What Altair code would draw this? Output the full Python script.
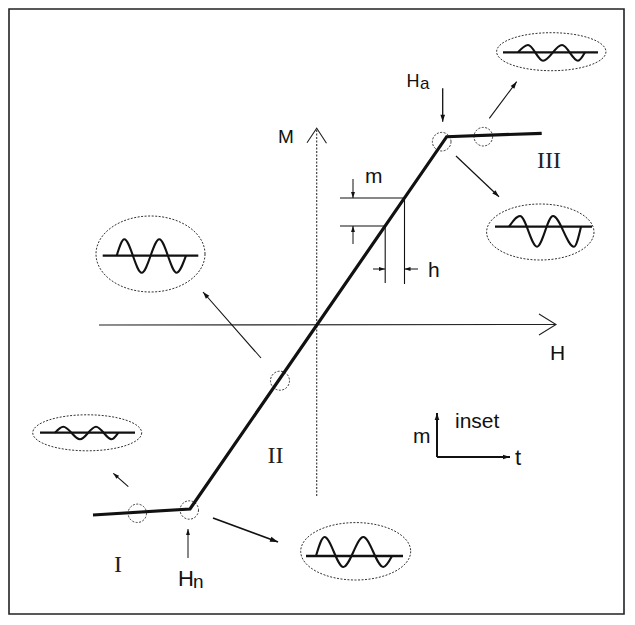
import math
import altair as alt
import pandas as pd

# ---------------- values (pixel coordinates) ----------------
# outer frame
frame_left, frame_right, frame_top, frame_bottom = 9, 624, 9, 614

# magnetisation curve M(H): regions I, II, III
curve_x = [93, 190, 446.7, 541.7]
curve_y = [515, 509, 136.7, 133.3]

# coordinate axes
h_axis_x = [99, 556]
h_axis_y = [325, 324.5]
m_axis_x = [316.7, 316.7]
m_axis_y = [496, 128.3]
h_head_x = [539, 556, 539]
h_head_y = [314, 324.5, 335]
m_head_x = [307, 316.7, 326.5]
m_head_y = [142.7, 128.3, 143.3]

# construction lines for the small step m / h
bracket_x1 = [340, 340, 385.2, 404.5]
bracket_y1 = [226, 198, 226, 198]
bracket_x2 = [385.2, 404.5, 385.2, 404.5]
bracket_y2 = [226, 198, 283, 284]

# small dashed circles on the curve
circ_x = [137.3, 189.3, 280, 441.7, 483.3]
circ_y = [513.3, 510, 380.7, 141.7, 136.7]
circ_r = [9.2, 9.2, 9.5, 9.3, 9.3]

# dashed ellipses holding the insets
ell_x = [551.3, 540.3, 150.5, 87.2, 355.7]
ell_y = [51.7, 232, 254, 432.8, 551.3]
ell_rx = [54.7, 53.7, 54.5, 54.5, 55]
ell_ry = [19, 28, 38, 18, 28.7]

# inset base lines
base_x1 = [503, 495, 102.7, 40, 306]
base_x2 = [598, 592, 198.3, 135, 403]
base_y = [52.3, 226.7, 255.7, 432.7, 556]

# inset oscillations (start, peak, trough, peak, trough, end)
wave_a_x = [518, 528, 543, 562, 578, 585]
wave_a_y = [52.3, 45, 60.7, 45, 60.7, 52.3]
wave_b_x = [509, 520, 537, 553, 574, 581]
wave_b_y = [226.7, 216, 246.7, 216, 246.7, 226.7]
wave_c_x = [116.7, 124.3, 141.7, 159.3, 176.7, 186]
wave_c_y = [255.7, 239.3, 272.7, 239.3, 272.7, 255.7]
wave_d_x = [55, 63.3, 80, 96, 111.7, 118.3]
wave_d_y = [432.7, 426.7, 439.3, 426.7, 439.3, 432.7]
wave_e_x = [316, 324.5, 343.3, 363.3, 383.3, 392]
wave_e_y = [556, 537, 567, 537, 567, 556]

# arrows: tail -> head
arr_x1 = [261, 128.3, 213, 489.3, 456, 442.7, 188, 353, 353, 373, 418, 437, 437]
arr_y1 = [358, 486.7, 518, 118.3, 156, 88.3, 558, 179, 244, 269, 269, 457, 457]
arr_x2 = [203, 113.3, 278, 516.7, 499, 442.7, 188, 353, 353, 385, 404.5, 437, 510]
arr_y2 = [292, 473.3, 542, 81.7, 196.7, 121.7, 529, 198, 226, 269, 269, 413, 457]
arr_w = [1.1, 1.1, 1.8, 1.1, 1.2, 1.3, 1.0, 1.0, 1.0, 1.0, 1.0, 2.0, 2.0]
arr_head = [7, 6, 8, 7, 7, 7, 6, 6, 6, 6, 6, 7, 7]

# labels
sans_c_text = ["M", "H"]
sans_c_x = [286, 557.5]
sans_c_y = [143.3, 360]
sans_c_size = [19, 21]

sans_l_text = ["H", "a", "H", "n", "m", "h", "inset", "m", "t"]
sans_l_x = [406.5, 420, 178, 193, 365, 428, 455, 413, 515]
sans_l_y = [87.3, 88.5, 585.5, 587.5, 183, 277, 428, 443, 465]
sans_l_size = [18, 17, 22, 19, 21, 21, 21, 21, 22]

roman_text = ["I", "II", "III"]
roman_x = [118, 275.5, 549]
roman_y = [572, 463, 168]

# ---------------- chart ----------------
W, H = 617, 607
X0, Y0 = 8, 8
xs = alt.Scale(domain=[X0, X0 + W], nice=False, zero=False)
ys = alt.Scale(domain=[Y0, Y0 + H], nice=False, zero=False, reverse=True)


def X(f):
    return alt.X(f, type="quantitative", scale=xs, axis=None)


def Y(f):
    return alt.Y(f, type="quantitative", scale=ys, axis=None)


INK = "#111111"

frame_df = pd.DataFrame({"x": [frame_left], "x2": [frame_right], "y": [frame_top], "y2": [frame_bottom]})
frame = alt.Chart(frame_df).mark_rect(fillOpacity=0, stroke="#222222", strokeWidth=1.6).encode(
    x=X("x"), x2="x2", y=Y("y"), y2="y2")

h_axis = alt.Chart(pd.DataFrame({"x": [h_axis_x[0]], "x2": [h_axis_x[1]], "y": [h_axis_y[0]], "y2": [h_axis_y[1]]})) \
    .mark_rule(color="#222222", strokeWidth=1.1).encode(x=X("x"), x2="x2", y=Y("y"), y2="y2")
m_axis = alt.Chart(pd.DataFrame({"x": [m_axis_x[0]], "x2": [m_axis_x[1]], "y": [m_axis_y[0]], "y2": [m_axis_y[1]]})) \
    .mark_rule(color="#333333", strokeWidth=1.1, strokeDash=[2, 1.5]).encode(x=X("x"), x2="x2", y=Y("y"), y2="y2")

chev_df = pd.DataFrame({
    "x": h_head_x + m_head_x,
    "y": h_head_y + m_head_y,
    "g": ["h"] * 3 + ["m"] * 3,
    "o": [0, 1, 2, 0, 1, 2],
})
chevrons = alt.Chart(chev_df).mark_line(color="#222222", strokeWidth=1.1).encode(
    x=X("x"), y=Y("y"), detail="g:N", order="o:Q")

curve = alt.Chart(pd.DataFrame({"x": curve_x, "y": curve_y, "o": range(len(curve_x))})).mark_line(
    color=INK, strokeWidth=3.2, strokeJoin="miter").encode(x=X("x"), y=Y("y"), order="o:Q")

brackets = alt.Chart(pd.DataFrame({"x": bracket_x1, "y": bracket_y1, "x2": bracket_x2, "y2": bracket_y2})) \
    .mark_rule(color=INK, strokeWidth=1.1).encode(x=X("x"), x2="x2", y=Y("y"), y2="y2")

circ_df = pd.DataFrame({"x": circ_x, "y": circ_y, "sz": [(2 * r) ** 2 for r in circ_r]})
circles = alt.Chart(circ_df).mark_point(shape="circle", filled=False, color="#333333", strokeWidth=1,
                                        strokeDash=[2, 1.5], opacity=1).encode(
    x=X("x"), y=Y("y"), size=alt.Size("sz:Q", scale=None))


def ellipse_path(k):
    c = 0.5523
    return (f"M1,0C1,{c*k:.4f},{c:.4f},{k:.4f},0,{k:.4f}"
            f"C{-c:.4f},{k:.4f},-1,{c*k:.4f},-1,0"
            f"C-1,{-c*k:.4f},{-c:.4f},{-k:.4f},0,{-k:.4f}"
            f"C{c:.4f},{-k:.4f},1,{-c*k:.4f},1,0Z")


ell_df = pd.DataFrame({
    "x": ell_x, "y": ell_y,
    "sz": [(2 * rx) ** 2 for rx in ell_rx],
    "shp": [ellipse_path(ry / rx) for rx, ry in zip(ell_rx, ell_ry)],
})
ellipses = alt.Chart(ell_df).mark_point(filled=False, color="#333333", strokeWidth=1,
                                        strokeDash=[2, 1.5], opacity=1).encode(
    x=X("x"), y=Y("y"), size=alt.Size("sz:Q", scale=None), shape=alt.Shape("shp:N", scale=None))

bases = alt.Chart(pd.DataFrame({"x": base_x1, "x2": base_x2, "y": base_y})).mark_rule(
    color=INK, strokeWidth=2.3).encode(x=X("x"), x2="x2", y=Y("y"))

wave_rows = []
for name, wx, wy in [("a", wave_a_x, wave_a_y), ("b", wave_b_x, wave_b_y), ("c", wave_c_x, wave_c_y),
                     ("d", wave_d_x, wave_d_y), ("e", wave_e_x, wave_e_y)]:
    for i, (px, py) in enumerate(zip(wx, wy)):
        wave_rows.append({"x": px, "y": py, "w": name, "o": i})
waves = alt.Chart(pd.DataFrame(wave_rows)).mark_line(color=INK, strokeWidth=2.1, interpolate="monotone").encode(
    x=X("x"), y=Y("y"), detail="w:N", order="o:Q")

arr_df = pd.DataFrame({"x": arr_x1, "y": arr_y1, "x2": arr_x2, "y2": arr_y2, "w": arr_w, "hl": arr_head})
arr_df["ang"] = [(math.degrees(math.atan2(bx - ax, -(by - ay))) + 360) % 360
                 for ax, ay, bx, by in zip(arr_x1, arr_y1, arr_x2, arr_y2)]
arr_df["sz"] = [(2 * h) ** 2 for h in arr_head]
shafts = alt.Chart(arr_df).mark_rule(color=INK).encode(
    x=X("x"), x2="x2", y=Y("y"), y2="y2", strokeWidth=alt.StrokeWidth("w:Q", scale=None))
heads = alt.Chart(arr_df).mark_point(filled=True, color=INK, opacity=1,
                                     shape="M0,0L0.33,1L-0.33,1Z").encode(
    x=X("x2"), y=Y("y2"), size=alt.Size("sz:Q", scale=None), angle=alt.Angle("ang:Q", scale=None))

sans_c = alt.Chart(pd.DataFrame({"t": sans_c_text, "x": sans_c_x, "y": sans_c_y, "s": sans_c_size})).mark_text(
    font="Liberation Sans", align="center", baseline="alphabetic", color=INK).encode(
    x=X("x"), y=Y("y"), text="t:N", size=alt.Size("s:Q", scale=None))
sans_l = alt.Chart(pd.DataFrame({"t": sans_l_text, "x": sans_l_x, "y": sans_l_y, "s": sans_l_size})).mark_text(
    font="Liberation Sans", align="left", baseline="alphabetic", color=INK).encode(
    x=X("x"), y=Y("y"), text="t:N", size=alt.Size("s:Q", scale=None))
roman = alt.Chart(pd.DataFrame({"t": roman_text, "x": roman_x, "y": roman_y})).mark_text(
    font="Liberation Serif", align="center", baseline="alphabetic", color="#222222", fontSize=24).encode(
    x=X("x"), y=Y("y"), text="t:N")

chart = alt.layer(
    frame, h_axis, m_axis, chevrons, brackets, ellipses, bases, waves, circles, curve,
    shafts, heads, sans_c, sans_l, roman
).properties(width=W, height=H, padding=0, background="white").configure_view(stroke=None)

chart.save("out.html", embed_options={"renderer": "svg", "actions": False})
